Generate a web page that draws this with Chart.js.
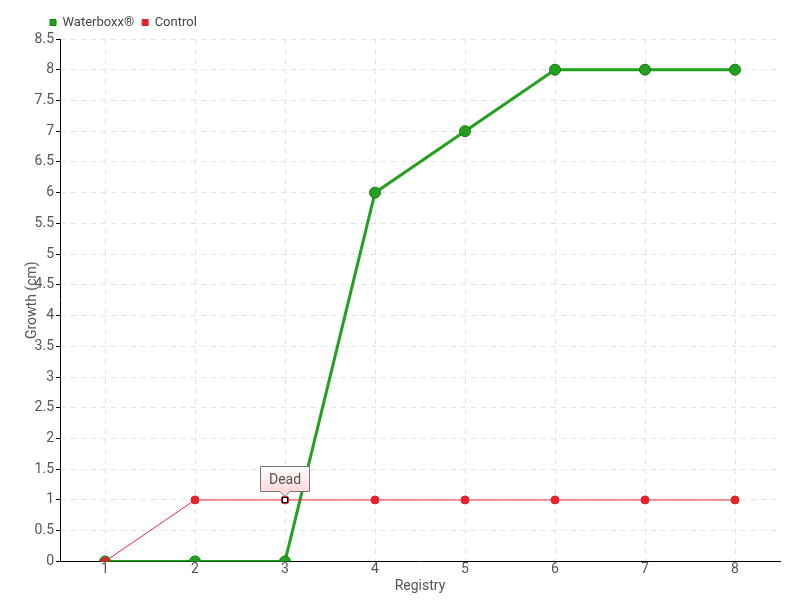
<!DOCTYPE html>
<html>
<head>
<meta charset="utf-8">
<script src="https://cdn.jsdelivr.net/npm/chart.js@4"></script>
<style>
  html, body { margin: 0; padding: 0; background: #fff; }
  #wrap { width: 800px; height: 600px; }
</style>
</head>
<body>
<div id="wrap"><canvas id="myChart" width="800" height="600"></canvas></div>
<script>
const registry = ['1', '2', '3', '4', '5', '6', '7', '8'];
const waterboxx = [0, 0, 0, 6, 7, 8, 8, 8];
const control = [0, 1, 1, 1, 1, 1, 1, 1];
const deadIndex = 2;
const deadLabel = 'Dead';

const FONT = "Roboto, 'DejaVu Sans', sans-serif";

// draws the "Dead" marker and callout on the control series
const deadNote = {
  id: 'deadNote',
  afterDatasetsDraw(chart) {
    const c = chart.ctx;
    const x = chart.scales.x.getPixelForValue(deadIndex);
    const y = chart.scales.y.getPixelForValue(control[deadIndex]);
    c.save();
    c.fillStyle = '#fff';
    c.strokeStyle = '#000';
    c.lineWidth = 1;
    c.fillRect(x - 3, y - 3, 6, 6);
    c.strokeRect(x - 2.5, y - 2.5, 5, 5);

    const w = 50, h = 26;
    const bx = Math.round(x - w / 2), by = Math.round(y - 8 - h);
    const g = c.createLinearGradient(0, by, 0, by + h);
    g.addColorStop(0, '#ffffff');
    g.addColorStop(1, '#fcd8d8');
    c.beginPath();
    c.moveTo(bx + 0.5, by + 0.5);
    c.lineTo(bx + w - 0.5, by + 0.5);
    c.lineTo(bx + w - 0.5, by + h - 0.5);
    c.lineTo(x + 5, by + h - 0.5);
    c.lineTo(x, by + h + 4.5);
    c.lineTo(x - 5, by + h - 0.5);
    c.lineTo(bx + 0.5, by + h - 0.5);
    c.closePath();
    c.fillStyle = g;
    c.fill();
    c.strokeStyle = '#777';
    c.stroke();
    c.fillStyle = '#555';
    c.font = '14px ' + FONT;
    c.textAlign = 'center';
    c.textBaseline = 'middle';
    c.fillText(deadLabel, x, by + h / 2 + 1);
    c.restore();
  }
};

// nudge the legend to the right, like the original
const legendShift = {
  id: 'legendShift',
  afterLayout(chart) {
    chart.legend.left += 18;
  }
};

const tickFont = { family: FONT, size: 14 };

const ctx = document.getElementById('myChart').getContext('2d');
const myChart = new Chart(ctx, {
  type: 'line',
  data: {
    labels: registry,
    datasets: [{
      label: 'Waterboxx®',
      data: waterboxx,
      order: 1,
      borderColor: '#22a01e',
      backgroundColor: '#22a01e',
      pointBorderColor: '#1a7a16',
      borderWidth: 3,
      pointRadius: 5.5,
      pointBorderWidth: 1,
      fill: false,
      tension: 0
    }, {
      label: 'Control',
      data: control,
      order: 0,
      borderColor: '#ee2a3a',
      backgroundColor: '#e8202a',
      pointBorderColor: '#e8202a',
      borderWidth: 1,
      pointRadius: 4,
      pointBorderWidth: 1,
      fill: false,
      tension: 0
    }]
  },
  options: {
    responsive: false,
    animation: false,
    layout: { padding: { left: 24, right: 20, top: 8, bottom: 5 } },
    plugins: {
      tooltip: { enabled: false },
      legend: {
        position: 'top',
        align: 'start',
        labels: {
          usePointStyle: true,
          pointStyle: 'rect',
          boxWidth: 6,
          boxHeight: 6,
          padding: 8,
          color: '#444',
          font: { family: FONT, size: 13 },
          sort: (a, b) => a.datasetIndex - b.datasetIndex
        }
      }
    },
    scales: {
      x: {
        offset: true,
        border: { color: '#000', width: 1, dash: [5, 5] },
        grid: { offset: false, color: '#e2e2e2', drawTicks: false },
        ticks: { color: '#555', padding: 0, font: tickFont },
        title: { display: true, text: 'Registry', color: '#555', padding: 0, font: tickFont }
      },
      y: {
        min: 0,
        max: 8.5,
        border: { color: '#000', width: 1, dash: [5, 5] },
        grid: { color: '#e2e2e2', tickLength: 4, tickColor: '#000', tickBorderDash: [] },
        ticks: { stepSize: 0.5, color: '#555', padding: 2, font: tickFont, callback: v => String(v) },
        title: { display: true, text: 'Growth (cm)', color: '#555', padding: 0, font: tickFont },
        afterFit: s => { s.width = 36; }
      }
    }
  },
  plugins: [deadNote, legendShift]
});
</script>
</body>
</html>
